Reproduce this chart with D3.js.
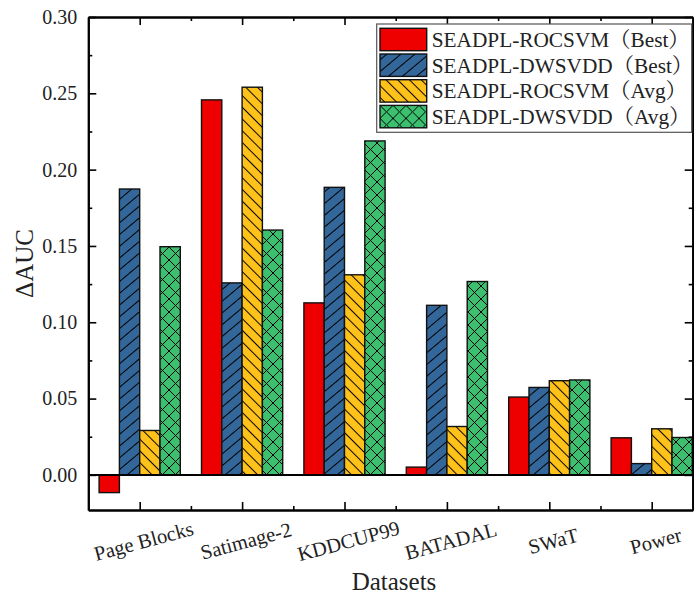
<!DOCTYPE html>
<html lang="en">
<head>
<meta charset="UTF-8">
<title>Delta AUC by dataset</title>
<script src="https://d3js.org/d3.v7.min.js"></script>
<style>
    body { margin: 0; padding: 0; background: #fff; }
    svg { display: block; font-family: "Liberation Serif", "Times New Roman", "Noto Serif CJK SC", "Noto Sans CJK SC", serif; }
    .axis path, .axis line { stroke: #000; }
    .axis path { stroke-width: 2px; }
    .axis line { stroke-width: 1.6px; }
    .axis text { font-size: 20px; fill: #222; font-family: "Liberation Serif", "Times New Roman", serif; }
</style>
</head>
<body>
<div id="chart"></div>
<script>
    // data
    const datasets = ["Page Blocks", "Satimage-2", "KDDCUP99", "BATADAL", "SWaT", "Power"];
    const seriesNames = ["SEADPL-ROCSVM（Best）", "SEADPL-DWSVDD（Best）", "SEADPL-ROCSVM（Avg）", "SEADPL-DWSVDD（Avg）"];
    const rocsvmBest = [-0.0116, 0.2457, 0.1127, 0.0051, 0.0510, 0.0243];
    const dwsvddBest = [0.1873, 0.1258, 0.1884, 0.1111, 0.0573, 0.0074];
    const rocsvmAvg  = [0.0291, 0.2540, 0.1311, 0.0317, 0.0617, 0.0302];
    const dwsvddAvg  = [0.1495, 0.1604, 0.2188, 0.1267, 0.0622, 0.0245];
    const yTicks = [0, 0.05, 0.10, 0.15, 0.20, 0.25, 0.30];

    const allSeries = [rocsvmBest, dwsvddBest, rocsvmAvg, dwsvddAvg];
    const colors = ["#ee0000", "#336699", "#ffc21a", "#3cc070"];
    const fills = ["#ee0000", "url(#hatchBlue)", "url(#hatchYellow)", "url(#hatchGreen)"];

    const W = 694, H = 597;
    const mLeft = 88.3, mRight = 692.7, mTop = 17, mBottom = 510;

    const svg = d3.select("#chart").append("svg").attr("width", W).attr("height", H);

    // hatch patterns
    const defs = svg.append("defs");
    function linePattern(id, color, spacing, angle) {
        const p = defs.append("pattern")
            .attr("id", id)
            .attr("patternUnits", "userSpaceOnUse")
            .attr("width", spacing).attr("height", spacing)
            .attr("patternTransform", `rotate(${angle})`);
        p.append("rect").attr("width", spacing).attr("height", spacing).attr("fill", color);
        p.append("line").attr("x1", 0).attr("x2", spacing).attr("y1", spacing / 2).attr("y2", spacing / 2)
            .attr("stroke", "#000").attr("stroke-width", 1);
    }
    linePattern("hatchBlue", colors[1], 9, -40);
    linePattern("hatchYellow", colors[2], 8.3, 45);
    const g13 = 13;
    const gp = defs.append("pattern")
        .attr("id", "hatchGreen")
        .attr("patternUnits", "userSpaceOnUse")
        .attr("width", g13).attr("height", g13);
    gp.append("rect").attr("width", g13).attr("height", g13).attr("fill", colors[3]);
    gp.append("path").attr("d", `M0,0L${g13},${g13}M${g13},0L0,${g13}`)
        .attr("stroke", "#000").attr("stroke-width", 1).attr("fill", "none");

    // scales
    const x = d3.scalePoint().domain(datasets).range([139.7, 651.7]);
    const step = x.step();
    const xInner = d3.scaleBand().domain(d3.range(4)).range([-40.6, 40.6]).padding(0);
    const y = d3.scaleLinear().domain([-0.023, 0.30]).range([mBottom, mTop]);

    // bars
    const groups = svg.append("g").selectAll("g")
        .data(allSeries)
        .join("g");
    groups.selectAll("rect")
        .data((vals, si) => vals.map((v, i) => ({ v, i, si })))
        .join("rect")
        .attr("x", d => x(datasets[d.i]) + xInner(d.si))
        .attr("width", xInner.bandwidth())
        .attr("y", d => y(Math.max(0, d.v)))
        .attr("height", d => Math.abs(y(d.v) - y(0)))
        .attr("fill", d => fills[d.si])
        .attr("stroke", "#111")
        .attr("stroke-width", 1.4);

    // zero line
    svg.append("line")
        .attr("x1", mLeft).attr("x2", mRight)
        .attr("y1", y(0)).attr("y2", y(0))
        .attr("stroke", "#000").attr("stroke-width", 2);

    // axes, ticks point inward on all four sides
    const minorY = d3.range(0.025, 0.30, 0.05);
    const minorX = datasets.map(d => x(d) - step / 2).concat([x(datasets[5]) + step / 2]).filter(v => v > mLeft + 1 && v < mRight - 1);
    const xPix = d3.scaleIdentity().domain([mLeft, mRight]).range([mLeft, mRight]);
    const majorX = datasets.map(d => x(d));

    svg.append("g").attr("class", "axis").attr("transform", `translate(${mLeft},0)`)
        .call(d3.axisLeft(y).tickValues(yTicks).tickFormat(d3.format(".2f")).tickSize(-8).tickSizeOuter(0).tickPadding(11));
    svg.append("g").attr("class", "axis").attr("transform", `translate(${mLeft},0)`)
        .call(d3.axisLeft(y).tickValues(minorY).tickFormat("").tickSize(-4).tickSizeOuter(0));
    svg.append("g").attr("class", "axis").attr("transform", `translate(${mRight},0)`)
        .call(d3.axisRight(y).tickValues(yTicks).tickFormat("").tickSize(-8).tickSizeOuter(0));
    svg.append("g").attr("class", "axis").attr("transform", `translate(${mRight},0)`)
        .call(d3.axisRight(y).tickValues(minorY).tickFormat("").tickSize(-4).tickSizeOuter(0));

    svg.append("g").attr("class", "axis").attr("transform", `translate(0,${mBottom})`)
        .call(d3.axisBottom(xPix).tickValues(majorX).tickFormat("").tickSize(-8).tickSizeOuter(0));
    svg.append("g").attr("class", "axis").attr("transform", `translate(0,${mBottom})`)
        .call(d3.axisBottom(xPix).tickValues(minorX).tickFormat("").tickSize(-4).tickSizeOuter(0));
    svg.append("g").attr("class", "axis").attr("transform", `translate(0,${mTop})`)
        .call(d3.axisTop(xPix).tickValues(majorX).tickFormat("").tickSize(-8).tickSizeOuter(0));
    svg.append("g").attr("class", "axis").attr("transform", `translate(0,${mTop})`)
        .call(d3.axisTop(xPix).tickValues(minorX).tickFormat("").tickSize(-4).tickSizeOuter(0));

    // slanted category labels
    svg.append("g").selectAll("text")
        .data(datasets)
        .join("text")
        .attr("transform", d => `translate(${x(d) + 4},${541}) rotate(-15)`)
        .attr("text-anchor", "middle")
        .attr("dominant-baseline", "central")
        .attr("font-size", 20.5)
        .attr("fill", "#222")
        .text(d => d);

    // axis titles
    svg.append("text")
        .attr("x", 394).attr("y", 590)
        .attr("text-anchor", "middle")
        .attr("font-size", 25)
        .attr("fill", "#222")
        .text("Datasets");
    svg.append("text")
        .attr("transform", `translate(33,${(mTop + mBottom) / 2}) rotate(-90)`)
        .attr("text-anchor", "middle")
        .attr("font-size", 25)
        .attr("fill", "#222")
        .text("ΔAUC");

    // legend
    const lg = svg.append("g");
    lg.append("rect")
        .attr("x", 376.7).attr("y", 24)
        .attr("width", 315).attr("height", 108.3)
        .attr("fill", "#fff").attr("stroke", "#555").attr("stroke-width", 1.2);
    const rowH = 25.7;
    const items = lg.selectAll("g.item")
        .data(seriesNames)
        .join("g")
        .attr("class", "item")
        .attr("transform", (d, i) => `translate(380,${28.3 + i * rowH})`);
    items.append("rect")
        .attr("width", 46.7).attr("height", 22.4)
        .attr("fill", (d, i) => fills[i])
        .attr("stroke", "#111").attr("stroke-width", 1.4);
    items.append("text")
        .attr("x", 51.7).attr("y", 18.6)
        .attr("font-size", 21.3)
        .attr("fill", "#222")
        .text(d => d);
</script>
</body>
</html>
